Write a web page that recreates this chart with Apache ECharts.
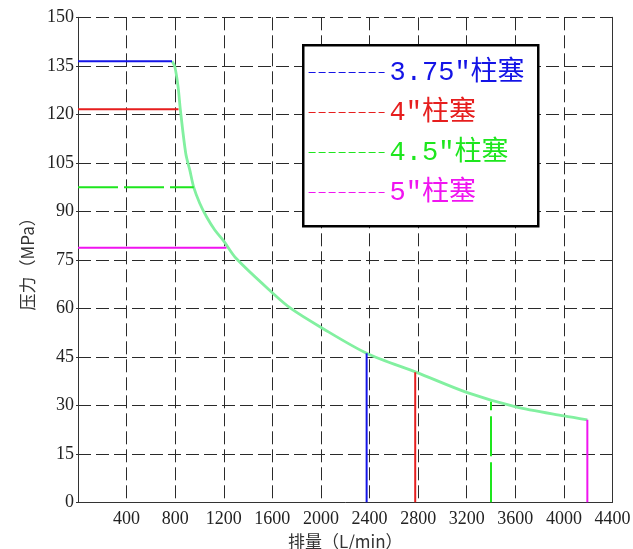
<!DOCTYPE html>
<html>
<head>
<meta charset="utf-8">
<script src="https://cdn.jsdelivr.net/npm/echarts@6/dist/echarts.min.js"></script>
<style>html,body{margin:0;padding:0;background:#fff;}#c{width:633px;height:549px;}</style>
</head>
<body>
<div id="c"></div>
<script>
// ---- data ----
const plungers = ['3.75″柱塞', '4″柱塞', '4.5″柱塞', '5″柱塞'];
const colors = ['#1414e6', '#e61e1e', '#1ee61e', '#f014f0'];
const maxPressure = [136.4, 121.6, 97.4, 78.7];      // horizontal limit lines (MPa)
const pressureEndFlow = [774, 827, 953, 1222];       // where horizontal lines end (L/min)
const maxFlow = [2376, 2776, 3400, 4193];            // vertical limit lines (L/min)
const flowEndPressure = [46.1, 40.2, 31.1, 25.5];    // where vertical lines end (MPa)
const curveFlow = [774, 797, 824, 843, 887, 920, 953, 1002, 1058, 1126, 1194, 1305, 1606, 1758, 1991, 2376, 2792, 3199, 3597, 4001, 4193];
const curvePressure = [136.4, 134.7, 128.5, 121.3, 107.9, 102.8, 97.4, 92.5, 88.3, 84.2, 81.1, 75.3, 64.6, 59.8, 54.3, 46.1, 40.1, 34.0, 29.6, 26.7, 25.5];
const xName = '排量（L/min）';
const yName = '压力（MPa）';

const chart = echarts.init(document.getElementById('c'));
const serifFont = "'Liberation Serif','Noto Sans CJK SC',serif";
const gridLine = { show: true, lineStyle: { color: '#2a2a2a', width: 1, type: [13, 5] } };

const series = plungers.map((name, i) => ({
  name: name,
  type: 'line',
  symbol: 'none',
  connectNulls: false,
  z: 3,
  lineStyle: { color: colors[i], width: 2, type: i === 2 ? [40, 6] : 'solid' },
  itemStyle: { color: colors[i] },
  data: [[0, maxPressure[i]], [pressureEndFlow[i], maxPressure[i]], '-', [maxFlow[i], 0], [maxFlow[i], flowEndPressure[i]]]
}));
series.push({
  name: 'curve',
  type: 'line',
  symbol: 'none',
  smooth: 0.3,
  z: 2,
  lineStyle: { color: '#82f0a0', width: 2.8 },
  data: curveFlow.map((x, i) => [x, curvePressure[i]])
});

chart.setOption({
  animation: false,
  backgroundColor: '#fff',
  grid: { left: 78, right: 20.5, top: 17.3, bottom: 46.7, containLabel: false, outerBoundsMode: 'none' },
  xAxis: {
    type: 'value', min: 0, max: 4400, interval: 400,
    name: xName, nameLocation: 'middle', nameGap: 28,
    nameTextStyle: { fontFamily: "'Noto Sans CJK SC',sans-serif", fontSize: 17, color: '#333' },
    axisLine: { show: true, onZero: false, lineStyle: { color: '#333', width: 1 } },
    axisTick: { show: false },
    axisLabel: { fontFamily: serifFont, fontSize: 18, color: '#222', margin: 8,
      formatter: v => v === 0 ? '' : String(v) },
    splitLine: gridLine
  },
  yAxis: [{
    type: 'value', min: 0, max: 150, interval: 15,
    name: yName, nameLocation: 'middle', nameGap: 40,
    nameTextStyle: { fontFamily: "'Noto Sans CJK SC',sans-serif", fontSize: 17, color: '#333' },
    axisLine: { show: true, onZero: false, lineStyle: { color: '#333', width: 1 } },
    axisTick: { show: true, length: 2, lineStyle: { color: '#333' } },
    axisLabel: { fontFamily: serifFont, fontSize: 18, color: '#222', margin: 4 },
    splitLine: gridLine
  }, {
    type: 'value', min: 0, max: 150, interval: 15, position: 'right',
    axisLine: { show: true, onZero: false, lineStyle: { color: '#333', width: 1 } },
    axisTick: { show: false }, axisLabel: { show: false }, splitLine: { show: false }
  }],
  graphic: [{
    type: 'rect', left: 302, top: 44, z: 10,
    shape: { width: 235, height: 181 },
    style: { fill: '#fff', stroke: '#000', lineWidth: 2.5 }
  }],
  legend: {
    orient: 'vertical', left: 308, top: 59, z: 20,
    itemWidth: 76, itemHeight: 14, itemGap: 13,
    padding: 0,
    data: plungers.map((name, i) => ({
      name: name,
      itemStyle: { opacity: 0 },
      lineStyle: { color: colors[i], width: 1.2, type: [7, 3] },
      textStyle: { color: colors[i] }
    })),
    textStyle: { fontFamily: "'Liberation Mono','Noto Sans CJK SC',monospace", fontSize: 27 }
  },
  series: series
});
</script>
</body>
</html>
